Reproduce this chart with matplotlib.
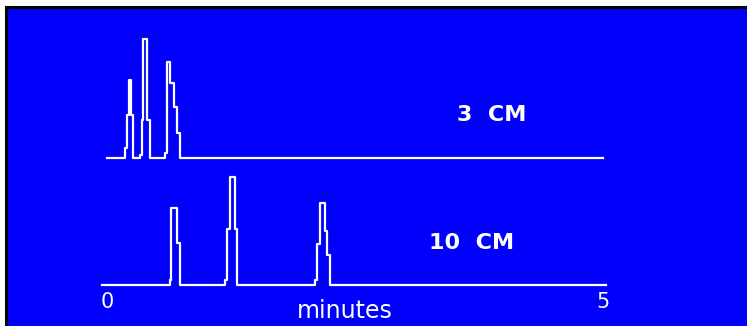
import matplotlib
matplotlib.use("Agg")
from matplotlib import pyplot as plt
from matplotlib.patches import Rectangle

# chromatogram outlines (time in minutes, detector signal above baseline)
t_3cm = [0.00, 0.18, 0.18, 0.20, 0.20, 0.22, 0.22, 0.24, 0.24, 0.26, 0.26,
         0.33, 0.33, 0.35, 0.35, 0.36, 0.36, 0.40, 0.40, 0.43, 0.43,
         0.58, 0.58, 0.60, 0.60, 0.64, 0.64, 0.68, 0.68, 0.71, 0.71, 0.74, 0.74,
         5.00]
s_3cm = [0, 0, 10, 10, 43, 43, 78, 78, 43, 43, 0,
         0, 3, 3, 38, 38, 119, 119, 38, 38, 0,
         0, 5, 5, 96, 96, 75, 75, 51, 51, 25, 25, 0,
         0]

t_10cm = [-0.05, 0.64, 0.64, 0.65, 0.65, 0.71, 0.71, 0.74, 0.74,
          1.19, 1.19, 1.21, 1.21, 1.24, 1.24, 1.29, 1.29, 1.31, 1.31,
          2.10, 2.10, 2.12, 2.12, 2.15, 2.15, 2.20, 2.20, 2.22, 2.22, 2.25, 2.25,
          5.03]
s_10cm = [0, 0, 5, 5, 77, 77, 42, 42, 0,
          0, 5, 5, 56, 56, 108, 108, 56, 56, 0,
          0, 5, 5, 41, 41, 82, 82, 54, 54, 30, 30, 0,
          0]

labels = ['3  CM', '10  CM']
x_ticks = [0, 5]
x_label = 'minutes'

BLUE = '#0000fb'
fig = plt.figure(figsize=(7.47, 3.26), dpi=100)
fig.patch.set_facecolor('white')

ax = fig.add_axes([0, 0, 1, 1])
ax.set_facecolor('none')
ax.set_axis_off()
ax.set_xlim(-107/99.2, 640/99.2)
ax.set_ylim(-41, 285)

# blue panel with black frame on top/left
ax.add_patch(Rectangle((6/747, -0.5), 1.5, 1.5 - 7/326,
                       transform=ax.transAxes, facecolor=BLUE,
                       edgecolor='black', lw=2.2, zorder=0, clip_on=False))

offset = 127
ax.plot(t_3cm, [s + offset for s in s_3cm], color='white', lw=1.6, zorder=2)
ax.plot(t_10cm, s_10cm, color='white', lw=1.6, zorder=2)

ax.text(3.88, 170, labels[0], color='white', fontsize=16, fontweight='bold',
        ha='center', va='center')
ax.text(3.68, 42, labels[1], color='white', fontsize=16, fontweight='bold',
        ha='center', va='center')
for xt in x_ticks:
    ax.text(xt, -17, str(xt), color='white', fontsize=15, ha='center', va='center')
ax.text(2.40, -26, x_label, color='white', fontsize=17, ha='center', va='center')

fig.savefig('out.png', dpi=100)
